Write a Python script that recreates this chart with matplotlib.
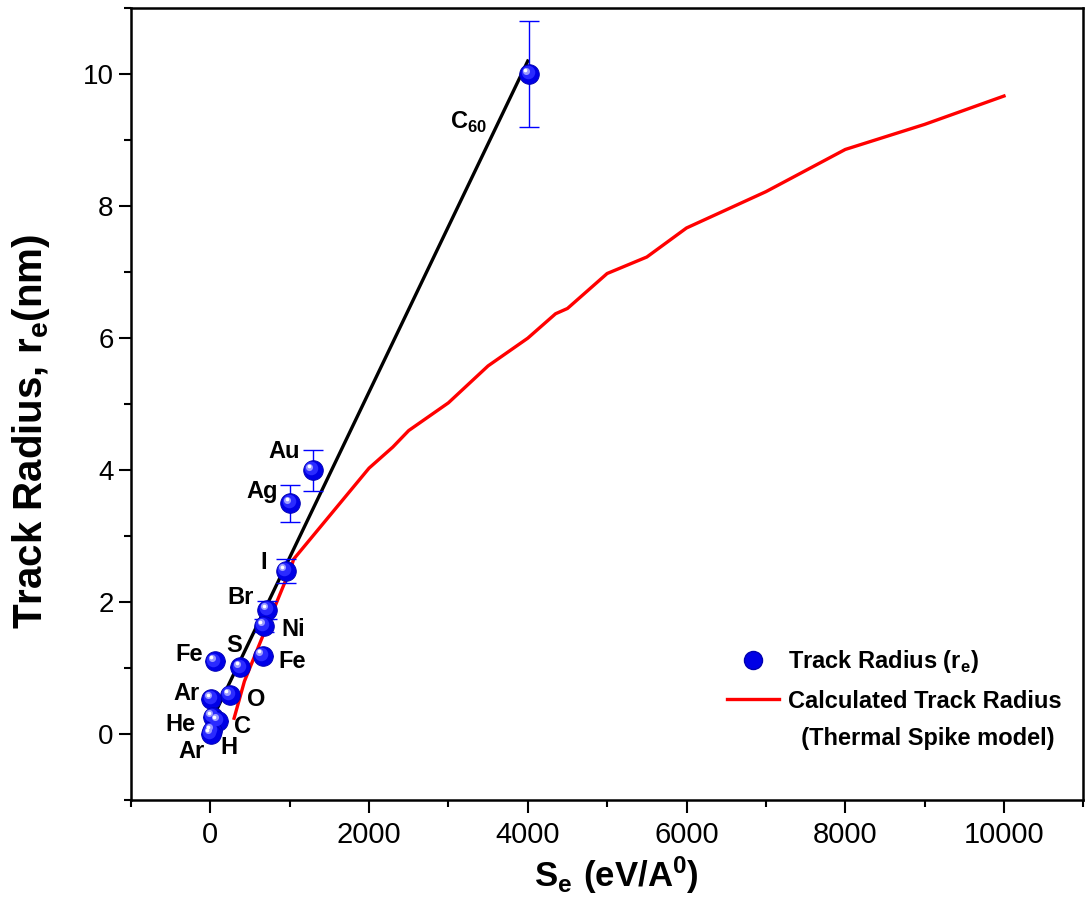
import matplotlib
matplotlib.use("Agg")
import matplotlib.pyplot as plt
import matplotlib.transforms as mtransforms
from matplotlib.lines import Line2D
from matplotlib.ticker import MultipleLocator

plt.rcParams['font.family'] = ['Liberation Sans', 'DejaVu Sans']
plt.rcParams['mathtext.fontset'] = 'custom'
plt.rcParams['mathtext.rm'] = 'Liberation Sans'
plt.rcParams['mathtext.sf'] = 'Liberation Sans:bold'
plt.rcParams['mathtext.bf'] = 'Liberation Sans:bold'

# ---- data ----
ions = ['C$_{\\mathsf{60}}$', 'Au', 'Ag', 'I', 'Br', 'Ni', 'Fe', 'Fe', 'S', 'O', 'Ar', 'He', 'C', 'H', 'Ar']
se_exp = [4020, 1290, 1010, 950, 720, 680, 660, 60, 380, 250, 15, 30, 100, 25, 10]
r_exp = [10.0, 4.0, 3.5, 2.47, 1.88, 1.64, 1.19, 1.10, 1.01, 0.59, 0.53, 0.26, 0.20, 0.05, 0.0]
r_err = [0.8, 0.31, 0.28, 0.18, 0.13, 0.10, 0.0, 0.0, 0.0, 0.0, 0.0, 0.0, 0.0, 0.0, 0.0]
label_offsets_px = [(-61, -48), (-29, 19), (-28, 12), (-22, 9), (-27, 13), (29, -4), (29, -6),
                    (-26, 7), (-6, 22), (26, -4), (-25, 6), (-32, -8), (24, -6), (17, -17), (-20, -17)]

se_fit = [25, 4000]
r_fit = [0.23, 10.2]

se_calc = [300, 430, 700, 950, 1000, 1050, 2000, 2300, 2500, 3000, 3500, 4000, 4350, 4500,
           5000, 5500, 6000, 7000, 8000, 9000, 10000]
r_calc = [0.24, 0.8, 1.6, 2.33, 2.45, 2.65, 4.03, 4.35, 4.6, 5.02, 5.58, 6.0, 6.37, 6.45,
          6.98, 7.23, 7.67, 8.22, 8.86, 9.24, 9.67]

xticks = [0, 2000, 4000, 6000, 8000, 10000]
yticks = [0, 2, 4, 6, 8, 10]

fig = plt.figure(figsize=(10.91, 9.18), dpi=100)
ax = fig.add_axes([0.120, 0.1285, 0.873, 0.8625])

ax.plot(se_fit, r_fit, color='black', lw=2.4, zorder=2)
ax.plot(se_calc, r_calc, color='#ff0000', lw=2.4, zorder=3)

ax.errorbar(se_exp, r_exp, yerr=r_err, fmt='none', ecolor='#0000ff', elinewidth=1.0,
            capsize=7, capthick=1.0, zorder=4)

def offs(dx, dy):
    return ax.transData + mtransforms.ScaledTranslation(dx / 72, dy / 72, fig.dpi_scale_trans)

ax.scatter(se_exp, r_exp, s=200, color='#0000e6', edgecolors='#0000b0', linewidths=0.6, zorder=5)
ax.scatter(se_exp, r_exp, s=95, color='#2a2aff', linewidths=0, zorder=6, transform=offs(-1.3, 1.3))
ax.scatter(se_exp, r_exp, s=26, color='#9a9aff', linewidths=0, zorder=7, transform=offs(-2.4, 2.6))
ax.scatter(se_exp, r_exp, s=7, color='white', linewidths=0, zorder=8, transform=offs(-2.8, 3.0))

for name, x, y, (dx, dy) in zip(ions, se_exp, r_exp, label_offsets_px):
    ax.annotate(name, (x, y), xytext=(dx, dy), textcoords='offset pixels',
                ha='center', va='center', fontsize=17, fontweight='bold', zorder=9)

ax.set_xlim(-1000, 11000)
ax.set_ylim(-1, 11)
ax.set_xticks(xticks)
ax.set_yticks(yticks)
ax.xaxis.set_minor_locator(MultipleLocator(1000))
ax.yaxis.set_minor_locator(MultipleLocator(1))
ax.tick_params(which='major', direction='out', length=9, width=1.5)
ax.tick_params(which='minor', direction='out', length=5, width=1.5)
ax.tick_params(top=False, right=False, which='both')
ax.tick_params(axis='y', labelsize=20)
ax.tick_params(axis='x', labelsize=21, pad=6)
for sp in ax.spines.values():
    sp.set_linewidth(1.8)

ax.set_xlabel(r'$\mathbf{S_e\ (eV/A^0)}$', fontsize=25)
ax.xaxis.set_label_coords(0.51, -0.069)
ax.set_ylabel(r'Track Radius, r$_{\mathsf{e}}$(nm)', fontsize=29, fontweight='bold')
ax.yaxis.set_label_coords(-0.083, 0.466)

handles = [Line2D([], [], ls='none', marker='o', markersize=13, markerfacecolor='#0000e6',
                  markeredgecolor='#0000b0'),
           Line2D([], [], color='#ff0000', lw=2.4),
           Line2D([], [], ls='none')]
leg = ax.legend(handles, [r'Track Radius (r$_{\mathsf{e}}$)', 'Calculated Track Radius',
                          '  (Thermal Spike model)'],
                loc='lower right', bbox_to_anchor=(1.0, 0.036), frameon=False,
                prop={'size': 17, 'weight': 'bold'}, handlelength=2.2, handletextpad=0.4,
                labelspacing=0.62)

fig.savefig('out.png', dpi=100)
